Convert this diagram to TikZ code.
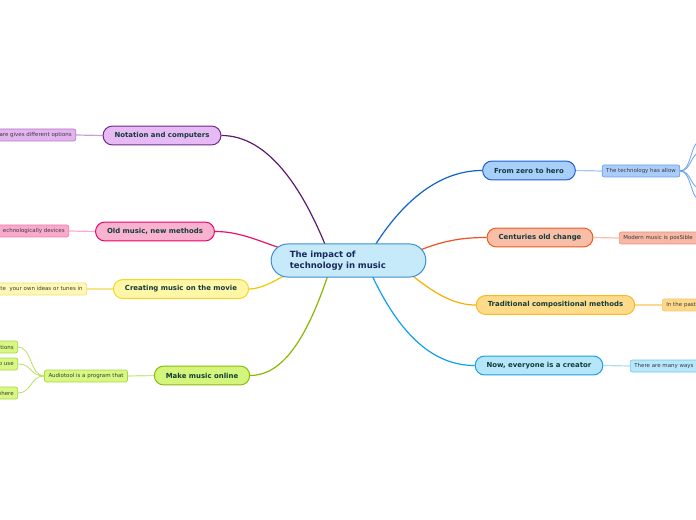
\documentclass[tikz,border=0pt]{standalone}
\usepackage{fontspec}
\setmainfont{DejaVu Sans}
\usetikzlibrary{backgrounds}

\definecolor{centfill}{HTML}{C6EAFA}
\definecolor{centdraw}{HTML}{3A8FD0}
\definecolor{centtxt}{HTML}{1A2A5A}
\definecolor{topictxt}{HTML}{123C3A}
\definecolor{subtxt}{HTML}{3A3A3A}
% one set per branch: line, fill, border, small fill, small border
\definecolor{purLine}{HTML}{5E1A6E}
\definecolor{purFill}{HTML}{E8BAF5}
\definecolor{purDraw}{HTML}{6E2A86}
\definecolor{purSub}{HTML}{E4B4F0}
\definecolor{purSubD}{HTML}{B574C8}
\definecolor{pnkLine}{HTML}{E8126A}
\definecolor{pnkFill}{HTML}{F9B2D0}
\definecolor{pnkDraw}{HTML}{E8006C}
\definecolor{pnkSub}{HTML}{F9AACC}
\definecolor{pnkSubD}{HTML}{F27AAE}
\definecolor{yelLine}{HTML}{F2C800}
\definecolor{yelFill}{HTML}{FFF6A8}
\definecolor{yelDraw}{HTML}{F2D820}
\definecolor{yelSub}{HTML}{FFF8B4}
\definecolor{yelSubD}{HTML}{F0E070}
\definecolor{grnLine}{HTML}{86B800}
\definecolor{grnFill}{HTML}{D4F57C}
\definecolor{grnDraw}{HTML}{8ABA10}
\definecolor{grnSub}{HTML}{D8F884}
\definecolor{grnSubD}{HTML}{A8D840}
\definecolor{bluLine}{HTML}{1062CC}
\definecolor{bluFill}{HTML}{A8CEFA}
\definecolor{bluDraw}{HTML}{1A5FD0}
\definecolor{bluSub}{HTML}{AACCF8}
\definecolor{bluSubD}{HTML}{6AA0F0}
\definecolor{redLine}{HTML}{F05020}
\definecolor{redFill}{HTML}{F9BEA8}
\definecolor{redDraw}{HTML}{F05A22}
\definecolor{redSub}{HTML}{F8B8A6}
\definecolor{redSubD}{HTML}{F09078}
\definecolor{orgLine}{HTML}{F8B000}
\definecolor{orgFill}{HTML}{FEDB8A}
\definecolor{orgDraw}{HTML}{F8BA20}
\definecolor{orgSub}{HTML}{FED88A}
\definecolor{orgSubD}{HTML}{F8C860}
\definecolor{cyaLine}{HTML}{10A0E8}
\definecolor{cyaFill}{HTML}{B6E6FA}
\definecolor{cyaDraw}{HTML}{1AA0E0}
\definecolor{cyaSub}{HTML}{B8E6FA}
\definecolor{cyaSubD}{HTML}{70C8F0}

\begin{document}
\begin{tikzpicture}[
  x=0.75pt, y=-0.75pt,
  centre/.style={draw=centdraw, fill=centfill, line width=0.75pt,
                 rounded corners=12.4pt, minimum height=24.8pt,
                 text width=88pt, align=left, inner xsep=14pt,
                 inner ysep=0pt, text=centtxt,
                 font=\fontsize{6.4}{8}\selectfont\bfseries},
  topic/.style={draw, line width=0.75pt, rounded corners=7pt,
                minimum height=14.2pt, inner xsep=8.6pt, inner ysep=0pt,
                text=topictxt, font=\fontsize{5.2}{6}\selectfont\bfseries},
  sub/.style={draw, line width=0.5pt, rounded corners=1.5pt,
              minimum height=9pt, inner xsep=3pt, inner ysep=0pt,
              text=subtxt, font=\fontsize{4.1}{4.7}\selectfont},
  leftcut/.style={anchor=east, text width=#1, align=right},
  rightcut/.style={anchor=west, text width=#1, align=left},
  link/.style={line width=0.9pt},
  twig/.style={line width=0.9pt}
]
\useasboundingbox (0,0) rectangle (696,520);
\clip (0,0) rectangle (696,520);

% Centre
\node[centre] (c) at (348.5,260.5) {The impact of\\technology in music};

% Main topics
\node[topic, fill=purFill, draw=purDraw] (notation) at (162,135.5) {Notation and computers};
\node[topic, fill=pnkFill, draw=pnkDraw] (oldmusic) at (155,231.5) {Old music, new methods};
\node[topic, fill=yelFill, draw=yelDraw] (movie)    at (181,289)   {Creating music on the movie};
\node[topic, fill=grnFill, draw=grnDraw] (online)   at (202,375.5) {Make music online};
\node[topic, fill=bluFill, draw=bluDraw] (hero)     at (529,170.5) {From zero to hero};
\node[topic, fill=redFill, draw=redDraw] (centuries) at (540,237.5) {Centuries old change};
\node[topic, fill=orgFill, draw=orgDraw] (tradition) at (555.5,305) {Traditional compositional methods};
\node[topic, fill=cyaFill, draw=cyaDraw] (creator)  at (539,365.5) {Now, everyone is a creator};

% Small topics
\node[sub, fill=purSub, draw=purSubD, leftcut=64pt] (notsub) at (76,135) {are gives different options};
\node[sub, fill=pnkSub, draw=pnkSubD, leftcut=60pt] (oldsub) at (69,231) {echnologically devices};
\node[sub, fill=yelSub, draw=yelSubD, leftcut=72pt] (moviesub) at (87,289) {te \ your own ideas or tunes in};
\node[sub, fill=grnSub, draw=grnSubD] (audio) at (86,376) {Audiotool is a program that};
\node[sub, fill=grnSub, draw=grnSubD, leftcut=24pt] (audA) at (18,347) {tions};
\node[sub, fill=grnSub, draw=grnSubD, leftcut=24pt] (audB) at (18,364) {o use};
\node[sub, fill=grnSub, draw=grnSubD, leftcut=24pt] (audC) at (18,393) {where};
\node[sub, fill=bluSub, draw=bluSubD] (herosub) at (641,171) {The technology has allow};
\node[sub, fill=redSub, draw=redSubD, rightcut=70pt] (censub) at (619,238) {Modern music is posSible};
\node[sub, fill=orgSub, draw=orgSubD, rightcut=40pt] (tradsub) at (662,305) {In the past};
\node[sub, fill=cyaSub, draw=cyaSubD, rightcut=60pt] (cresub) at (630,366) {There are many ways};

% Ends beyond the right edge
\coordinate (fanA) at (702,140);
\coordinate (fanB) at (702,152);
\coordinate (fanC) at (702,189);
\coordinate (fanD) at (702,201);

\begin{scope}[on background layer]
  % centre to main topics
  \draw[link, purLine] ([shift={(-23,-15)}]c.center) .. controls (302,188) and (268,135.5) .. (notation.east);
  \draw[link, pnkLine] ([shift={(-70,-13)}]c.center) .. controls (252,238) and (236,231.5) .. (oldmusic.east);
  \draw[link, yelLine] ([shift={(-64,15)}]c.center) .. controls (268,285) and (258,289) .. (movie.east);
  \draw[link, grnLine] ([shift={(-21,16)}]c.center) .. controls (306,340) and (282,375.5) .. (online.east);
  \draw[link, bluLine] ([shift={(27,-16)}]c.center) .. controls (404,200) and (440,170.5) .. (hero.west);
  \draw[link, redLine] ([shift={(73,-11)}]c.center) .. controls (446,240) and (464,237.5) .. (centuries.west);
  \draw[link, orgLine] ([shift={(65,16)}]c.center) .. controls (438,296) and (456,305) .. (tradition.west);
  \draw[link, cyaLine] ([shift={(24,16)}]c.center) .. controls (398,330) and (430,365.5) .. (creator.west);

  % main topics to small topics
  \draw[twig, purSubD!70] (notation.west) -- (notsub.east);
  \draw[twig, pnkSubD!60] (oldmusic.west) -- (oldsub.east);
  \draw[twig, yelSubD!80] (movie.west) -- (moviesub.east);
  \draw[twig, grnSubD!60] (online.west) -- (audio.east);
  \draw[twig, bluSubD!60] (hero.east) -- (herosub.west);
  \draw[twig, redSubD!60] (centuries.east) -- (censub.west);
  \draw[twig, orgSubD!70] (tradition.east) -- (tradsub.west);
  \draw[twig, cyaSubD!60] (creator.east) -- (cresub.west);

  % fans
  \draw[line width=0.6pt, grnSubD!80] (audio.west) .. controls (30,376) and (32,347) .. (audA.east);
  \draw[line width=0.6pt, grnSubD!80] (audio.west) .. controls (30,376) and (32,364) .. (audB.east);
  \draw[line width=0.6pt, grnSubD!80] (audio.west) .. controls (30,376) and (32,393) .. (audC.east);
  \draw[line width=0.6pt, bluSubD] (herosub.east) .. controls (692,171) and (690,140) .. (fanA);
  \draw[line width=0.6pt, bluSubD] (herosub.east) .. controls (692,171) and (690,152) .. (fanB);
  \draw[line width=0.6pt, bluSubD] (herosub.east) .. controls (692,171) and (690,189) .. (fanC);
  \draw[line width=0.6pt, bluSubD] (herosub.east) .. controls (692,171) and (690,201) .. (fanD);
\end{scope}
\end{tikzpicture}
\end{document}
